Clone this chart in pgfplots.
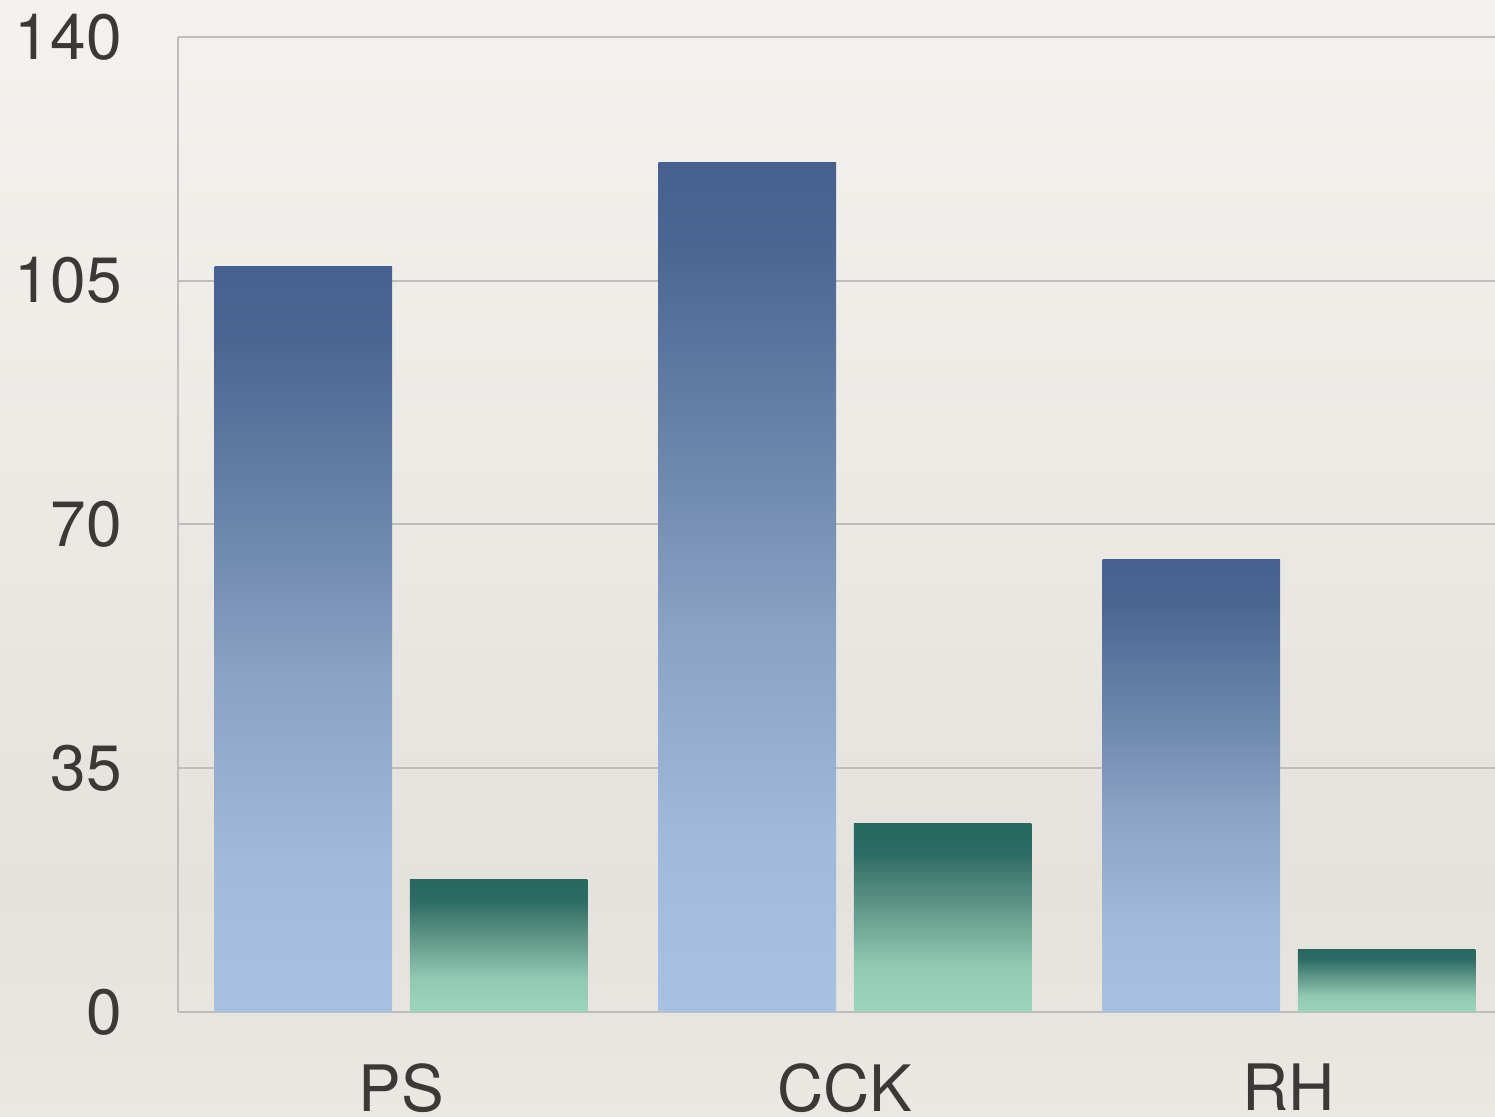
\documentclass[border=0pt]{standalone}
\usepackage{pgfplots}
\pgfplotsset{compat=1.18}
\usepackage{fontspec}
\setmainfont{TeX Gyre Heros}
\definecolor{textgray}{HTML}{3A3935}
\definecolor{gridgray}{HTML}{BFBDBA}
\definecolor{bL0}{HTML}{A8C1E0}
\definecolor{bL1}{HTML}{A1BAD9}
\definecolor{bL2}{HTML}{8AA2C3}
\definecolor{bL3}{HTML}{6C86AC}
\definecolor{bL4}{HTML}{4B6693}
\definecolor{bL5}{HTML}{46618F}
\definecolor{gL0}{HTML}{9CD4BD}
\definecolor{gL1}{HTML}{92C9B4}
\definecolor{gL2}{HTML}{6AA08F}
\definecolor{gL3}{HTML}{3F7A70}
\definecolor{gL4}{HTML}{2B6B63}
\definecolor{gL5}{HTML}{29685F}
\definecolor{bgT}{HTML}{F4F2EE}
\definecolor{bgM}{HTML}{E5E2DD}
\definecolor{bgB}{HTML}{EBE8E3}
\pgfdeclareverticalshading{bluebar}{100bp}{color(0bp)=(bL0); color(25bp)=(bL0); color(35bp)=(bL1); color(47.5bp)=(bL2); color(57.5bp)=(bL3); color(70bp)=(bL4); color(75bp)=(bL5); color(100bp)=(bL5)}
\pgfdeclareverticalshading{greenbar}{100bp}{color(0bp)=(gL0); color(25bp)=(gL0); color(37.5bp)=(gL1); color(50bp)=(gL2); color(62.5bp)=(gL3); color(67.5bp)=(gL4); color(75bp)=(gL5); color(100bp)=(gL5)}
\pgfdeclareverticalshading{bgshade}{100bp}{color(0bp)=(bgB); color(25bp)=(bgB); color(35bp)=(bgM); color(75bp)=(bgT); color(100bp)=(bgT)}
\begin{document}
\begin{tikzpicture}
\useasboundingbox (0,0) rectangle (747.5pt,558.5pt);
\shade[shading=bgshade] (0,0) rectangle (747.5pt,558.5pt);
\begin{axis}[
  at={(89pt,52.5pt)}, anchor=south west,
  scale only axis, width=658.5pt, height=487.5pt,
  xmin=-0.5023, xmax=2.464, ymin=0, ymax=140,
  xtick={0,1,2}, xticklabels={PS,CCK,RH},
  ytick={0,35,70,105,140},
  major tick length=0pt,
  axis x line*=bottom, axis y line*=left,
  axis line style={draw=gridgray, line width=1.1pt},
  x axis line style={-}, y axis line style={-},
  ymajorgrids, grid style={draw=gridgray, line width=1pt},
  /pgf/number format/assume math mode=true,
  tick label style={font=\fontsize{32}{38}\selectfont, text=textgray},
  yticklabel style={anchor=east, inner sep=0pt, xshift=-28pt},
  xticklabel style={anchor=north, inner sep=0pt, yshift=-25.5pt},
  clip=false,
  bluestyle/.style={ybar, bar width=0.4, bar shift=-0.22, draw=none, shade, shading=bluebar},
  greenstyle/.style={ybar, bar width=0.4, bar shift=0.22, draw=none, shade, shading=greenbar},
]
% one bar per plot so each bar carries its own gradient
\addplot[bluestyle] coordinates {(0,107)};
\addplot[bluestyle] coordinates {(1,122)};
\addplot[bluestyle] coordinates {(2,65)};
\addplot[greenstyle] coordinates {(0,19)};
\addplot[greenstyle] coordinates {(1,27)};
\addplot[greenstyle] coordinates {(2,9)};
\draw[gridgray, line width=1.1pt] (axis cs:-0.5023,140) -- (axis cs:2.464,140);
\end{axis}
\end{tikzpicture}
\end{document}
